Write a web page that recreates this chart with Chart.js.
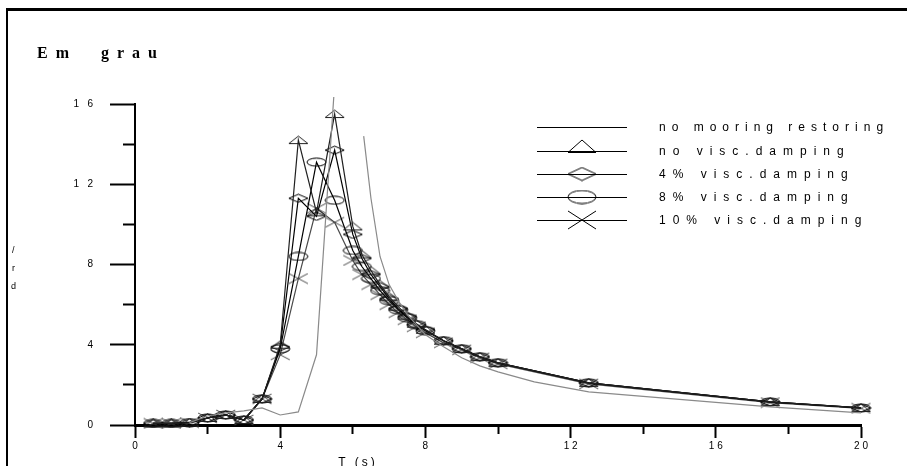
<!DOCTYPE html>
<html>
<head>
<meta charset="utf-8">
<script src="https://cdn.jsdelivr.net/npm/chart.js@4/dist/chart.umd.min.js"></script>
<style>
  html, body { margin: 0; padding: 0; background: #fff; }
  #wrap { width: 907px; height: 466px; }
</style>
</head>
<body>
<div id="wrap"><canvas id="rao" width="907" height="466"></canvas></div>
<script>
// series labels
const seriesNames = ['no mooring restoring', 'no visc.damping', '4% visc.damping', '8% visc.damping', '10% visc.damping'];

// no mooring restoring (grey line, no markers); null = gap where the curve leaves the frame
const tNoMooring = [1.5, 2, 2.5, 3, 3.5, 4, 4.5, 5, 5.5, 5.9, 6.3, 6.5, 6.75, 7, 7.25, 7.5, 7.75, 8, 8.5, 9, 9.5, 10, 11, 12.5, 17.5, 20];
const rNoMooring = [0.12, 0.45, 0.6, 0.7, 0.85, 0.5, 0.65, 3.5, 17, null, 14.4, 11.3, 8.4, 7.0, 6.2, 5.5, 5.0, 4.5, 3.9, 3.35, 2.95, 2.65, 2.15, 1.65, 0.9, 0.6];

// periods of the damping cases
const tDamp = [0.5, 1, 1.5, 2, 2.5, 3, 3.5, 4, 4.5, 5, 5.5, 6, 6.25, 6.5, 6.75, 7, 7.25, 7.5, 7.75, 8, 8.5, 9, 9.5, 10, 12.5, 17.5, 20];
const rNoVisc = [0.08, 0.08, 0.12, 0.35, 0.5, 0.25, 1.3, 4.0, 14.2, 10.6, 15.5, 9.9, 8.5, 7.7, 7.0, 6.4, 5.9, 5.45, 5.05, 4.75, 4.2, 3.8, 3.4, 3.1, 2.1, 1.15, 0.85];
const rVisc4 = [0.08, 0.08, 0.12, 0.35, 0.5, 0.25, 1.3, 3.9, 11.3, 10.4, 13.7, 9.5, 8.3, 7.5, 6.9, 6.3, 5.8, 5.4, 5.0, 4.75, 4.2, 3.8, 3.4, 3.1, 2.1, 1.15, 0.85];
const rVisc8 = [0.08, 0.08, 0.12, 0.35, 0.5, 0.25, 1.3, 3.8, 8.4, 13.1, 11.2, 8.7, 7.9, 7.3, 6.7, 6.2, 5.75, 5.35, 5.0, 4.7, 4.2, 3.8, 3.4, 3.1, 2.1, 1.15, 0.85];
const rVisc10 = [0.08, 0.08, 0.12, 0.35, 0.5, 0.25, 1.3, 3.5, 7.3, 10.8, 10.1, 8.2, 7.5, 7.0, 6.5, 6.0, 5.6, 5.25, 4.9, 4.6, 4.1, 3.75, 3.35, 3.05, 2.05, 1.12, 0.83];

// axes
const xMin = 0, xMax = 20, xStep = 2;
const yMin = 0, yMax = 16, yStep = 2;

function pairs(ts, vs) {
    return ts.map((t, i) => ({ x: t, y: vs[i] }));
}

function spaced(v, gap) {
    return String(v).split('').join(gap);
}

// wide, flat markers like the original plotter
function makeMarker(kind, w, h, color) {
    const c = document.createElement('canvas');
    c.width = w + 2;
    c.height = h + 2;
    const g = c.getContext('2d');
    g.strokeStyle = color;
    g.lineWidth = 1;
    const cx = c.width / 2, cy = c.height / 2;
    g.beginPath();
    if (kind === 'triangle') {
        g.moveTo(1, h + 0.5);
        g.lineTo(cx, 1);
        g.lineTo(w + 1, h + 0.5);
        g.closePath();
    } else if (kind === 'diamond') {
        g.moveTo(1, cy);
        g.lineTo(cx, 1);
        g.lineTo(w + 1, cy);
        g.lineTo(cx, h + 1);
        g.closePath();
    } else if (kind === 'ellipse') {
        g.ellipse(cx, cy, w / 2, h / 2, 0, 0, Math.PI * 2);
    } else {
        g.moveTo(1, 1);
        g.lineTo(w + 1, h + 1);
        g.moveTo(w + 1, 1);
        g.lineTo(1, h + 1);
    }
    g.stroke();
    return c;
}

const styles = [
    { color: '#8a8a8a', kind: null },
    { color: '#202020', kind: 'triangle' },
    { color: '#000000', kind: 'diamond' },
    { color: '#000000', kind: 'ellipse' },
    { color: '#4a4a4a', kind: 'cross' }
];
const plotMarkers = styles.map(s => s.kind ? makeMarker(s.kind, 19, s.kind === 'cross' ? 10 : 8, s.color) : null);
const legendMarkers = styles.map(s => s.kind ? makeMarker(s.kind, 28, s.kind === 'cross' ? 18 : 13, '#000') : null);

const seriesData = [
    pairs(tNoMooring, rNoMooring),
    pairs(tDamp, rNoVisc),
    pairs(tDamp, rVisc4),
    pairs(tDamp, rVisc8),
    pairs(tDamp, rVisc10)
];

const datasets = seriesData.map((d, i) => ({
    label: seriesNames[i],
    data: d,
    borderColor: styles[i].color,
    borderWidth: 1.2,
    tension: 0,
    spanGaps: false,
    pointStyle: plotMarkers[i] || 'circle',
    pointRadius: plotMarkers[i] ? 4 : 0,
    pointHoverRadius: 0,
    clip: { left: 14, top: 7, right: 14, bottom: 14 }
}));

// frame, title, axis titles and legend
const decorations = {
    id: 'decorations',
    afterDraw(chart) {
        const c = chart.ctx;
        c.save();
        c.fillStyle = '#000';
        c.strokeStyle = '#000';

        // outer frame (top and left only)
        c.lineWidth = 3;
        c.beginPath();
        c.moveTo(907, 9.5);
        c.lineTo(6, 9.5);
        c.stroke();
        c.lineWidth = 2;
        c.beginPath();
        c.moveTo(7, 8);
        c.lineTo(7, 466);
        c.stroke();

        // title
        c.font = 'bold 16px "Liberation Serif"';
        c.letterSpacing = '8px';
        c.textBaseline = 'alphabetic';
        c.textAlign = 'left';
        c.fillText('Em  grau', 37, 58);

        // y-axis title fragments
        c.letterSpacing = '0px';
        c.font = '9px "Liberation Sans"';
        c.fillText('/', 12, 253);
        c.fillText('r', 12, 271);
        c.fillText('d', 11, 289);

        // x-axis title
        c.font = '12px "Liberation Sans"';
        c.letterSpacing = '3px';
        c.textAlign = 'center';
        c.fillText('T (s)', 358, 466);

        // legend
        const rows = [127, 151, 174, 197, 220];
        c.textAlign = 'left';
        c.textBaseline = 'middle';
        c.font = '12px "Liberation Sans"';
        rows.forEach((y, i) => {
            c.strokeStyle = '#000';
            c.lineWidth = 1;
            c.beginPath();
            c.moveTo(537, y + 0.5);
            c.lineTo(627, y + 0.5);
            c.stroke();
            const m = legendMarkers[i];
            if (m) {
                // triangle rests on the line, the others are centred on it
                const top = i === 1 ? y - 12 : y - m.height / 2;
                c.drawImage(m, 582 - m.width / 2, top);
            }
            c.letterSpacing = i === 0 ? '6px' : '7px';
            c.fillText(seriesNames[i], 659, y + 1);
        });
        c.letterSpacing = '0px';
        c.restore();
    }
};

new Chart(document.getElementById('rao'), {
    type: 'line',
    data: { datasets },
    options: {
        responsive: false,
        animation: false,
        devicePixelRatio: 1,
        layout: { padding: { top: 104, right: 46, left: 0, bottom: 0 } },
        plugins: { legend: { display: false }, tooltip: { enabled: false } },
        scales: {
            x: {
                type: 'linear',
                min: xMin,
                max: xMax,
                position: 'bottom',
                border: { color: '#000', width: 3 },
                grid: {
                    drawOnChartArea: false,
                    tickLength: 13,
                    tickWidth: 2,
                    tickColor: '#000',
                    tickBorderDash: ctx => (ctx.tick && ctx.tick.value % 4 === 0) ? [] : [7, 60]
                },
                ticks: {
                    stepSize: xStep,
                    autoSkip: false,
                    maxRotation: 0,
                    color: '#000',
                    padding: 2,
                    font: { family: 'Liberation Sans', size: 10 },
                    callback: v => v % 4 === 0 ? spaced(v, ' ') : ''
                },
                afterFit: s => { s.height = 41; }
            },
            y: {
                type: 'linear',
                min: yMin,
                max: yMax,
                position: 'left',
                border: { color: '#000', width: 2 },
                grid: {
                    drawOnChartArea: false,
                    tickLength: 25,
                    tickWidth: 2,
                    tickColor: '#000',
                    tickBorderDash: ctx => (ctx.tick && ctx.tick.value % 4 === 0) ? [] : [0, 13, 12, 60]
                },
                ticks: {
                    stepSize: yStep,
                    autoSkip: false,
                    color: '#000',
                    padding: 17,
                    font: { family: 'Liberation Sans', size: 10 },
                    callback: v => v % 4 === 0 ? spaced(v, '   ') : ''
                },
                afterFit: s => { s.width = 135; }
            }
        }
    },
    plugins: [decorations]
});
</script>
</body>
</html>
